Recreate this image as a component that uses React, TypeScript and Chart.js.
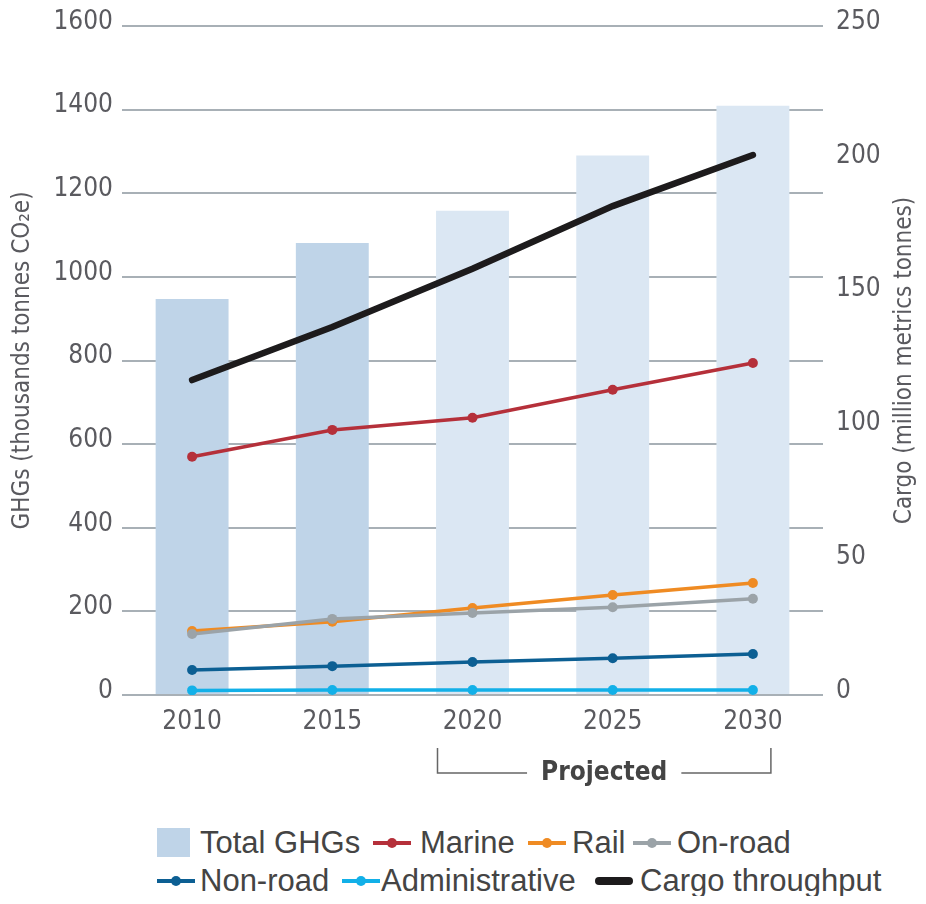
import React, { useEffect, useRef } from "react";
import { Chart, registerables } from "chart.js";

Chart.register(...registerables);

const years = ["2010", "2015", "2020", "2025", "2030"];
const totalGHGs = [947, 1081, 1158, 1290, 1409];
const marine = [570, 634, 663, 730, 794];
const rail = [153, 175, 208, 239, 268];
const onRoad = [146, 182, 196, 210, 230];
const nonRoad = [60, 69, 79, 88, 98];
const administrative = [11, 12, 12, 12, 12];
const cargo = [117.7, 137.5, 159.3, 182.7, 201.8];

const ghgMax = 1600;
const ghgStep = 200;
const cargoMax = 250;
const cargoStep = 50;

const leftTitle = "GHGs (thousands tonnes CO₂e)";
const rightTitle = "Cargo (million metrics tonnes)";

const barColors = ["#bfd4e8", "#bfd4e8", "#dbe7f3", "#dbe7f3", "#dbe7f3"];
const C_MARINE = "#b5303a";
const C_RAIL = "#ef8b23";
const C_ONROAD = "#9ba3a8";
const C_NONROAD = "#0c5f93";
const C_ADMIN = "#12b0e8";
const C_CARGO = "#1d1b1c";

const NARROW = "'Liberation Sans Narrow', 'DejaVu Sans Condensed', 'Roboto Condensed', 'Liberation Sans', sans-serif";
const REG = "'Liberation Sans', Arial, sans-serif";
const TICK = "#5a5a5f";

const projectedPlugin = {
  id: "projected",
  afterDraw(chart: any) {
    const ctx = chart.ctx;
    const xs = chart.scales.x;
    const area = chart.chartArea;
    const bottom = area.bottom;
    const x1 = xs.getPixelForValue(2) - 35;
    const x2 = xs.getPixelForValue(4) + 18;
    const yTop = bottom + 53;
    const yBot = bottom + 78;
    ctx.save();
    ctx.font = `bold 26px ${NARROW}`;
    const label = "Projected";
    const tw = ctx.measureText(label).width;
    const cx = (x1 + x2) / 2;
    ctx.strokeStyle = "#666";
    ctx.lineWidth = 1.5;
    ctx.beginPath();
    ctx.moveTo(x1, yTop);
    ctx.lineTo(x1, yBot);
    ctx.lineTo(cx - tw / 2 - 14, yBot);
    ctx.moveTo(cx + tw / 2 + 14, yBot);
    ctx.lineTo(x2, yBot);
    ctx.lineTo(x2, yTop);
    ctx.stroke();
    ctx.fillStyle = "#444";
    ctx.textAlign = "center";
    ctx.textBaseline = "middle";
    ctx.fillText(label, cx, yBot);

    // right axis title, reading bottom-to-top
    const ys = chart.scales.y2;
    ctx.font = `24px ${NARROW}`;
    ctx.fillStyle = TICK;
    ctx.translate(ys.right - 13, (area.top + area.bottom) / 2);
    ctx.rotate(-Math.PI / 2);
    ctx.fillText(rightTitle, 0, 0);
    ctx.restore();
  },
};

function lineDs(label: string, data: number[], color: string, order: number) {
  return {
    type: "line" as const,
    label,
    data,
    borderColor: color,
    backgroundColor: color,
    borderWidth: 3.5,
    pointRadius: 5,
    pointBorderWidth: 0,
    pointBackgroundColor: color,
    tension: 0,
    yAxisID: "y",
    order,
  };
}

function LineMarker({ color, thick }: { color: string; thick?: boolean }) {
  return (
    <div style={{ position: "relative", width: 38, height: 14 }}>
      <div
        style={{
          position: "absolute",
          left: 0,
          right: 0,
          top: thick ? 3 : 5,
          height: thick ? 8 : 4,
          borderRadius: thick ? 4 : 0,
          background: color,
        }}
      />
      {!thick && (
        <div
          style={{
            position: "absolute",
            left: 14,
            top: 2,
            width: 10,
            height: 10,
            borderRadius: 5,
            background: color,
          }}
        />
      )}
    </div>
  );
}

type Item = { x: number; tx: number; y: number; label: string; color: string; kind: "box" | "line" | "thick" };
const legendItems: Item[] = [
  { x: 157, tx: 200, y: 843, label: "Total GHGs", color: "#bfd4e8", kind: "box" },
  { x: 373, tx: 420, y: 843, label: "Marine", color: C_MARINE, kind: "line" },
  { x: 528, tx: 572, y: 843, label: "Rail", color: C_RAIL, kind: "line" },
  { x: 633, tx: 677, y: 843, label: "On-road", color: C_ONROAD, kind: "line" },
  { x: 157, tx: 200, y: 881, label: "Non-road", color: C_NONROAD, kind: "line" },
  { x: 342, tx: 381, y: 881, label: "Administrative", color: C_ADMIN, kind: "line" },
  { x: 595, tx: 640, y: 881, label: "Cargo throughput", color: C_CARGO, kind: "thick" },
];

const plainTick = (v: any) => String(v);

export default function App() {
  const ref = useRef<HTMLCanvasElement | null>(null);

  useEffect(() => {
    if (!ref.current) return;
    const chart = new Chart(ref.current, {
      data: {
        labels: years,
        datasets: [
          {
            type: "bar",
            label: "Total GHGs",
            data: totalGHGs,
            backgroundColor: barColors,
            borderWidth: 0,
            barPercentage: 0.52,
            categoryPercentage: 1,
            yAxisID: "y",
            order: 10,
          } as any,
          lineDs("Marine", marine, C_MARINE, 2),
          lineDs("Rail", rail, C_RAIL, 4),
          lineDs("On-road", onRoad, C_ONROAD, 3),
          lineDs("Non-road", nonRoad, C_NONROAD, 2),
          lineDs("Administrative", administrative, C_ADMIN, 2),
          {
            type: "line",
            label: "Cargo throughput",
            data: cargo,
            borderColor: C_CARGO,
            backgroundColor: C_CARGO,
            borderWidth: 6.5,
            borderCapStyle: "round",
            pointRadius: 0,
            tension: 0,
            yAxisID: "y2",
            order: 1,
          } as any,
        ],
      },
      options: {
        animation: false,
        responsive: false,
        maintainAspectRatio: false,
        layout: { padding: { top: 18, left: 0, right: 0, bottom: 0 } },
        plugins: {
          legend: { display: false },
          tooltip: { enabled: false },
        },
        scales: {
          x: {
            type: "category",
            offset: true,
            grid: { display: false, drawTicks: false },
            border: { display: false },
            ticks: { font: { family: NARROW, size: 26 }, color: TICK, padding: 12 },
            afterFit: (s: any) => {
              s.height = 113;
            },
          },
          y: {
            type: "linear",
            position: "left",
            min: 0,
            max: ghgMax,
            grid: { color: "#a8b0b6", lineWidth: 2, drawTicks: false },
            border: { display: false },
            ticks: {
              stepSize: ghgStep,
              font: { family: NARROW, size: 26 },
              color: TICK,
              padding: 9,
              labelOffset: -4,
              callback: plainTick,
            },
            title: {
              display: true,
              text: leftTitle,
              font: { family: NARROW, size: 24 },
              color: TICK,
              padding: 0,
            },
            afterFit: (s: any) => {
              s.width = 114;
              s.paddingTop = 18;
              s.paddingBottom = 18;
            },
          },
          y2: {
            type: "linear",
            position: "right",
            min: 0,
            max: cargoMax,
            grid: { display: false, drawTicks: false },
            border: { display: false },
            ticks: {
              stepSize: cargoStep,
              font: { family: NARROW, size: 26 },
              color: TICK,
              padding: 13,
              labelOffset: -4,
              callback: plainTick,
            },
            title: { display: false },
            afterFit: (s: any) => {
              s.width = 95;
              s.paddingTop = 18;
              s.paddingBottom = 18;
            },
          },
        },
      } as any,
      plugins: [projectedPlugin],
    });
    return () => chart.destroy();
  }, []);

  return (
    <div style={{ position: "relative", width: 910, height: 888, fontFamily: REG }}>
      <canvas ref={ref} width={910} height={800} style={{ position: "absolute", left: 0, top: 0, width: 910, height: 800 }} />
      {legendItems.map((it) => (
        <React.Fragment key={it.label}>
          <div style={{ position: "absolute", left: it.x - 8, top: it.y - 8 - (it.kind === "box" ? 15 : 7) }}>
            {it.kind === "box" ? (
              <div style={{ width: 33, height: 29, background: it.color }} />
            ) : (
              <LineMarker color={it.color} thick={it.kind === "thick"} />
            )}
          </div>
          <div
            style={{
              position: "absolute",
              left: it.tx - 8,
              top: it.y - 8 - 18,
              fontSize: 31,
              lineHeight: "36px",
              color: "#444",
              whiteSpace: "nowrap",
            }}
          >
            {it.label}
          </div>
        </React.Fragment>
      ))}
    </div>
  );
}
